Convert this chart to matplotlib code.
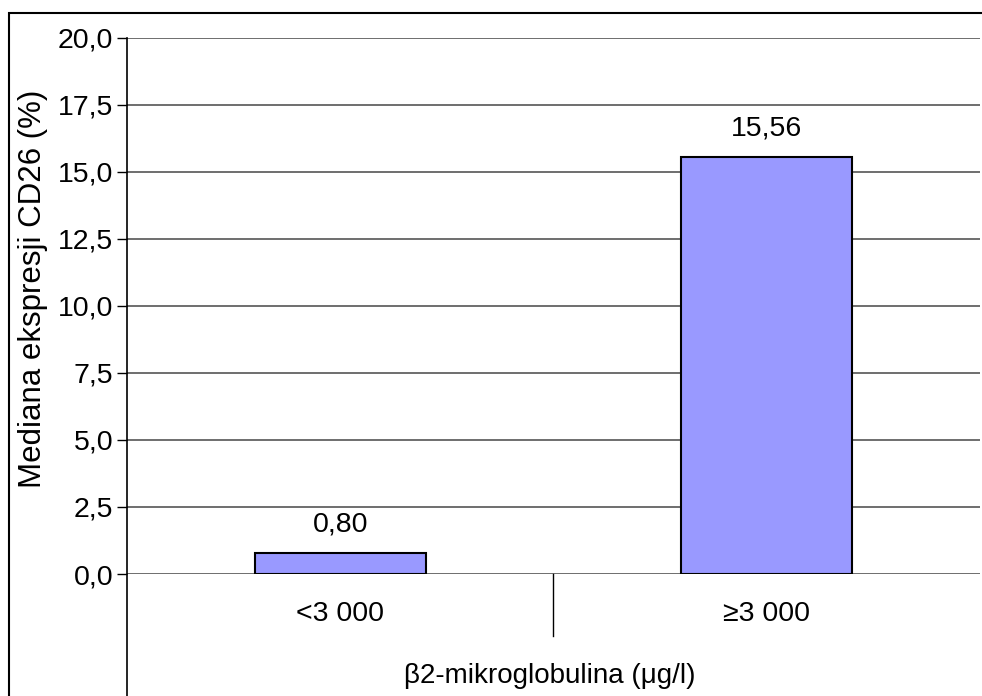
import matplotlib.pyplot as plt
from matplotlib.lines import Line2D
from matplotlib.patches import Rectangle
from matplotlib.ticker import FuncFormatter, MultipleLocator

# data
categories = ['<3 000', '≥3 000']
medians = [0.80, 15.56]

FS = 20.5
plt.rcParams['font.family'] = ['Liberation Sans', 'DejaVu Sans']
plt.rcParams['font.size'] = FS

W, H = 982, 696
fig = plt.figure(figsize=(W / 100, H / 100), dpi=100)

# plot area in pixel coordinates
left, right, top, bottom = 127, 980, 37.5, 574
ax = fig.add_axes([left / W, 1 - bottom / H, (right - left) / W, (bottom - top) / H])

x = range(len(categories))
bars = ax.bar(x, medians, width=0.4, color='#9999FF', edgecolor='black', linewidth=1.5, zorder=3)

ax.set_xlim(-0.5, len(categories) - 0.5)
ax.set_ylim(0, 20)
ax.yaxis.set_major_locator(MultipleLocator(2.5))
ax.yaxis.set_major_formatter(FuncFormatter(lambda v, p: f'{v:.1f}'.replace('.', ',')))
ax.yaxis.grid(True, color='#555555', linewidth=1.2, zorder=0)
ax.tick_params(axis='y', length=7, width=1, pad=3, labelsize=FS)
ax.set_xticks([])

for side in ['top', 'right', 'bottom', 'left']:
    ax.spines[side].set_visible(False)

# value labels
for b, v in zip(bars, medians):
    ax.annotate(f'{v:.2f}'.replace('.', ','), (b.get_x() + b.get_width() / 2, v),
                xytext=(0, 11), textcoords='offset points', ha='center', va='bottom', fontsize=FS)

# y axis line running down past the category area
fig.add_artist(Line2D([left / W, left / W], [1 - top / H, 0], color='black', linewidth=1.2))
# category divider
fig.add_artist(Line2D([553 / W, 553 / W], [1 - bottom / H, 1 - 636 / H], color='black', linewidth=1))

# category labels
for i, c in enumerate(categories):
    xf = ax.transData.transform((i, 0))[0] / W
    fig.text(xf, 1 - 614 / H, c, ha='center', va='center', fontsize=FS)

fig.text(550 / W, 1 - 676 / H, 'β2-mikroglobulina (μg/l)', ha='center', va='center', fontsize=20)
fig.text(33 / W, 1 - 289 / H, 'Mediana ekspresji CD26 (%)', rotation=90, ha='center', va='center', fontsize=22.5)

# outer frame
fig.add_artist(Rectangle((9 / W, -0.1), 1.2, 1 - 13 / H + 0.1, transform=fig.transFigure,
                         fill=False, edgecolor='black', linewidth=1.5))

fig.savefig('out.png', dpi=100)
